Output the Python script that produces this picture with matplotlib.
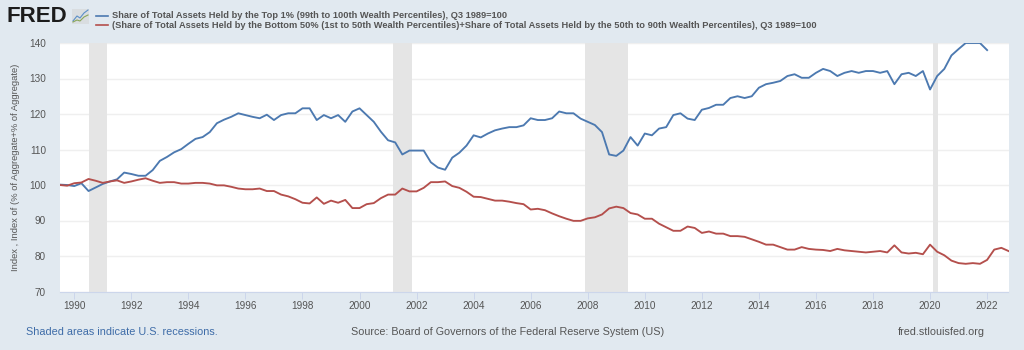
import numpy as np
import matplotlib
matplotlib.use('Agg')
import matplotlib.pyplot as plt
from matplotlib.lines import Line2D
from matplotlib.patches import Rectangle

plt.rcParams['font.family'] = ['Liberation Sans', 'DejaVu Sans']

top1 = [100.1, 100.0, 99.7, 100.5, 98.3, 99.3, 100.3, 101.0, 101.6, 103.5, 103.1, 102.6, 102.6, 104.2,
        106.8, 107.9, 109.2, 110.1, 111.6, 113.0, 113.5, 114.9, 117.4, 118.4, 119.2, 120.2, 119.7, 119.2,
        118.8, 119.8, 118.3, 119.7, 120.2, 120.2, 121.6, 121.6, 118.3, 119.7, 118.8, 119.7, 117.8, 120.7,
        121.6, 119.7, 117.8, 115.0, 112.6, 112.0, 108.6,
        109.7, 109.7, 109.7, 106.4, 104.9, 104.3, 107.7, 109.1, 111.1, 114.0, 113.4, 114.5, 115.4, 115.9,
        116.3, 116.3, 116.8, 118.8, 118.3, 118.3, 118.8, 120.7, 120.2, 120.2, 118.7, 117.8, 116.9, 114.9,
        108.6, 108.2, 109.7, 113.5, 111.1, 114.5, 114.0, 115.9, 116.3, 119.7, 120.2, 118.7,
        118.3, 121.2, 121.7, 122.6, 122.6, 124.5, 125.0, 124.5, 125.0, 127.4, 128.4, 128.8, 129.3, 130.7,
        131.2, 130.2, 130.2, 131.6, 132.7, 132.1, 130.7, 131.6, 132.1, 131.6, 132.1, 132.1, 131.6, 132.1,
        128.4, 131.2, 131.6, 130.7, 132.1, 126.9, 130.7, 132.7, 136.5, 138.3, 140.0, 140.0, 140.0, 138.0]
bottom90 = [100.0, 99.8, 100.5, 100.7, 101.7, 101.2, 100.6, 101.0, 101.3, 100.6, 101.0, 101.5, 101.9, 101.2,
            100.6, 100.8, 100.8, 100.4, 100.4, 100.6, 100.6, 100.4, 99.9, 99.9, 99.5, 99.0, 98.8, 98.8,
            99.0, 98.3, 98.3, 97.3, 96.8, 96.0, 95.0, 94.8, 96.5, 94.7, 95.6, 95.0, 95.8, 93.5,
            93.5, 94.6, 94.9, 96.3, 97.3, 97.3, 99.0,
            98.2, 98.2, 99.2, 100.8, 100.8, 101.0, 99.7, 99.2, 98.1, 96.7, 96.6, 96.1, 95.6, 95.6,
            95.3, 94.9, 94.6, 93.1, 93.3, 92.9, 92.0, 91.2, 90.5, 89.9, 89.9, 90.6, 90.9, 91.7,
            93.4, 93.9, 93.5, 92.1, 91.7, 90.5, 90.5, 89.1, 88.1, 87.1, 87.1, 88.3,
            87.9, 86.5, 86.9, 86.3, 86.3, 85.6, 85.6, 85.4, 84.7, 84.0, 83.2, 83.2, 82.5, 81.8,
            81.8, 82.5, 82.0, 81.8, 81.7, 81.4, 82.0, 81.6, 81.4, 81.2, 81.0, 81.2, 81.4, 81.0,
            83.0, 81.0, 80.7, 80.9, 80.5, 83.2, 81.2, 80.2, 78.7, 78.0, 77.8, 78.0, 77.8, 78.9,
            81.8, 82.3, 81.4]
recessions = [(1990.5, 1991.15), (2001.17, 2001.85), (2007.92, 2009.42), (2020.1, 2020.28)]
year_ticks = list(range(1990, 2024, 2))
y_ticks = [70, 80, 90, 100, 110, 120, 130, 140]
label1 = 'Share of Total Assets Held by the Top 1% (99th to 100th Wealth Percentiles), Q3 1989=100'
label2 = ('(Share of Total Assets Held by the Bottom 50% (1st to 50th Wealth Percentiles)'
          '+Share of Total Assets Held by the 50th to 90th Wealth Percentiles), Q3 1989=100')

W, H = 1024, 350
bg = '#e1e9f0'
blue = '#4c79b0'
red = '#b44f4c'
grey = '#555555'

def fx(px):
    return px / W

def fy(px):
    return 1 - px / H

fig = plt.figure(figsize=(W / 100, H / 100), dpi=100, facecolor=bg)
ax = fig.add_axes([fx(60), fy(291.5), fx(948.5), fy(43) - fy(291.5)])

xt = 1989.5 + 0.25 * np.arange(len(top1))
xb = 1989.5 + 0.25 * np.arange(len(bottom90))
for start, end in recessions:
    ax.axvspan(start, end, color='#e5e5e5', lw=0, zorder=1)
ax.plot(xt, top1, color=blue, lw=1.35, zorder=3)
ax.plot(xb, bottom90, color=red, lw=1.35, zorder=3)

ax.set_xlim(1989.5, 2022.75)
ax.set_ylim(70, 140)
ax.set_xticks(year_ticks)
ax.set_yticks(y_ticks)
ax.grid(axis='y', color='#efefef', lw=1, zorder=0)
ax.set_axisbelow(True)
for s in ['top', 'right', 'left']:
    ax.spines[s].set_visible(False)
ax.spines['bottom'].set_color('#ccd6eb')
ax.spines['bottom'].set_linewidth(0.8)
ax.tick_params(axis='x', length=5, width=0.7, color='#ccd6eb', labelcolor=grey, labelsize=7.2, pad=1.5)
ax.tick_params(axis='y', length=0, labelcolor=grey, labelsize=7.2, pad=10)
ax.set_ylabel('Index , Index of (% of Aggregate+% of Aggregate)', fontsize=6.75, color=grey, labelpad=7)

# header: logo + legend
fig.text(fx(7), fy(17), 'FRED', fontsize=16, fontweight='bold', color='#1c1c1c', va='center', ha='left')
fig.add_artist(Rectangle((fx(72), fy(24)), fx(17), fy(9) - fy(24), transform=fig.transFigure,
                         facecolor='#d9dde0', edgecolor='none'))
fig.add_artist(Line2D([fx(73), fx(77), fx(80), fx(84), fx(88)], [fy(21), fy(16), fy(18), fy(13), fy(10)],
                      color='#5b8fc7', lw=0.8))
fig.add_artist(Line2D([fx(73), fx(77), fx(80), fx(84), fx(88)], [fy(22), fy(20), fy(21), fy(17), fy(15)],
                      color='#8aa65a', lw=0.8))
fig.add_artist(Line2D([fx(96), fx(108)], [fy(15.5), fy(15.5)], color=blue, lw=1.2))
fig.add_artist(Line2D([fx(96), fx(108)], [fy(25), fy(25)], color=red, lw=1.2))
fig.text(fx(112), fy(15.5), label1, fontsize=6.64, fontweight='bold', color=grey, va='center', ha='left')
fig.text(fx(112), fy(25.5), label2, fontsize=6.64, fontweight='bold', color=grey, va='center', ha='left')

# footer
fig.text(fx(26), fy(332), 'Shaded areas indicate U.S. recessions.', fontsize=7.8, color='#3e6ca8', va='center', ha='left')
fig.text(fx(351), fy(332), 'Source: Board of Governors of the Federal Reserve System (US)', fontsize=7.77,
         color=grey, va='center', ha='left')
fig.text(fx(898), fy(332), 'fred.stlouisfed.org', fontsize=7.77, color=grey, va='center', ha='left')

fig.savefig('out.png', dpi=100, facecolor=bg)
